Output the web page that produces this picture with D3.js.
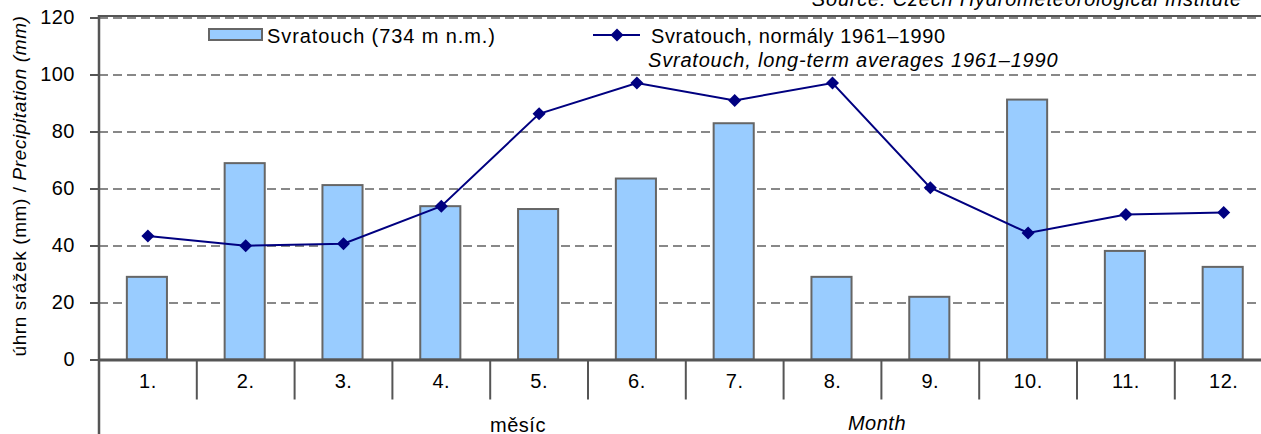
<!DOCTYPE html>
<html>
<head>
<meta charset="utf-8">
<script src="https://cdn.jsdelivr.net/npm/d3@7"></script>
<style>
  body { margin: 0; background: #fff; }
  svg { display: block; font-family: 'Liberation Sans', Arial, sans-serif; }
  text { fill: #000; }
</style>
</head>
<body>
<div id="vis"></div>
<script>
var months = ['1.', '2.', '3.', '4.', '5.', '6.', '7.', '8.', '9.', '10.', '11.', '12.'];
var precip = [29.0, 68.9, 61.2, 53.8, 52.8, 63.5, 82.9, 29.0, 22.0, 91.2, 38.1, 32.5]; // Svratouch
var normals = [43.3, 39.9, 40.6, 53.8, 86.2, 97.0, 90.9, 97.0, 60.3, 44.4, 50.9, 51.6]; // 1961-1990
var yTicks = [0, 20, 40, 60, 80, 100, 120];

var width = 1261, height = 434;
var plotLeft = 99, plotRight = 1272.6; // plot continues past the right edge
var plotTop = 17.5, plotBottom = 359.5;

var svg = d3.select('#vis').append('svg')
    .attr('width', width)
    .attr('height', height);

var x = d3.scaleBand().domain(months).range([plotLeft, plotRight]).padding(0);
var y = d3.scaleLinear().domain([0, 120]).range([plotBottom, plotTop]);
var barW = x.bandwidth() * 0.41;

// gridlines
svg.append('g')
  .selectAll('line')
  .data(yTicks.filter(function(d) { return d > 0; }))
  .enter()
  .append('line')
  .attr('x1', plotLeft).attr('x2', width)
  .attr('y1', function(d) { return y(d) + 0.5; })
  .attr('y2', function(d) { return y(d) + 0.5; })
  .attr('stroke', '#888')
  .attr('stroke-width', 2)
  .attr('stroke-dasharray', '9,5');

// top border of plot area
svg.append('line')
  .attr('x1', plotLeft).attr('x2', width)
  .attr('y1', plotTop - 1.5).attr('y2', plotTop - 1.5)
  .attr('stroke', '#555').attr('stroke-width', 2);

// bars
svg.append('g')
  .selectAll('rect')
  .data(precip)
  .enter()
  .append('rect')
  .attr('x', function(d, i) { return x(months[i]) + x.bandwidth() / 2 - barW / 2 - 1; })
  .attr('y', function(d) { return y(d); })
  .attr('width', barW)
  .attr('height', function(d) { return y(0) - y(d); })
  .attr('fill', '#99ccff')
  .attr('stroke', '#666')
  .attr('stroke-width', 2);

// y axis
var yAxis = d3.axisLeft(y).tickValues(yTicks).tickSize(9).tickPadding(15);
var gy = svg.append('g')
  .attr('transform', 'translate(' + plotLeft + ',0)')
  .call(yAxis);
gy.select('.domain').remove();
gy.selectAll('.tick line').attr('stroke', '#555').attr('stroke-width', 2);
gy.selectAll('.tick text')
  .attr('font-size', 20)
  .attr('letter-spacing', 0.5)
  .attr('font-family', "'Liberation Sans', Arial, sans-serif")
  .attr('fill', '#000');

svg.append('line')
  .attr('x1', plotLeft).attr('x2', plotLeft)
  .attr('y1', plotTop - 2.5).attr('y2', height)
  .attr('stroke', '#555').attr('stroke-width', 2.5);

// x axis (category level)
var xAxis = d3.axisBottom(x).tickSize(0).tickPadding(14);
var gx = svg.append('g')
  .attr('transform', 'translate(0,' + plotBottom + ')')
  .call(xAxis);
gx.select('.domain').remove();
gx.selectAll('.tick text')
  .attr('font-size', 20)
  .attr('letter-spacing', 0.5)
  .attr('font-family', "'Liberation Sans', Arial, sans-serif")
  .attr('fill', '#000');

// separators between categories
svg.append('g')
  .selectAll('line')
  .data(months.slice(1))
  .enter()
  .append('line')
  .attr('x1', function(d) { return x(d); })
  .attr('x2', function(d) { return x(d); })
  .attr('y1', plotBottom).attr('y2', plotBottom + 40)
  .attr('stroke', '#555').attr('stroke-width', 2);

svg.append('line')
  .attr('x1', plotLeft).attr('x2', width)
  .attr('y1', plotBottom + 0.5).attr('y2', plotBottom + 0.5)
  .attr('stroke', '#555').attr('stroke-width', 3);

// line series
var line = d3.line()
  .x(function(d, i) { return x(months[i]) + x.bandwidth() / 2; })
  .y(function(d) { return y(d); });

svg.append('path')
  .datum(normals)
  .attr('d', line)
  .attr('fill', 'none')
  .attr('stroke', '#000080')
  .attr('stroke-width', 2);

var diamond = d3.symbol().type(d3.symbolSquare).size(85);
svg.append('g')
  .selectAll('path')
  .data(normals)
  .enter()
  .append('path')
  .attr('d', diamond)
  .attr('transform', function(d, i) {
    return 'translate(' + (x(months[i]) + x.bandwidth() / 2) + ',' + y(d) + ')rotate(45)';
  })
  .attr('fill', '#000080');

// axis titles
svg.append('text')
  .attr('transform', 'translate(26,186)rotate(-90)')
  .attr('text-anchor', 'middle')
  .attr('font-size', 19)
  .attr('letter-spacing', 0.6)
  .call(function(t) {
    t.append('tspan').text('úhrn srážek (mm) / ');
    t.append('tspan').attr('font-style', 'italic').text('Precipitation (mm)');
  });

svg.append('text')
  .attr('x', 518).attr('y', 432)
  .attr('text-anchor', 'middle')
  .attr('font-size', 20)
  .attr('letter-spacing', 0.5)
  .text('měsíc');

svg.append('text')
  .attr('x', 877).attr('y', 430)
  .attr('text-anchor', 'middle')
  .attr('font-size', 20)
  .attr('font-style', 'italic')
  .attr('letter-spacing', 0.5)
  .text('Month');

// source (cut off at the top edge, as in the original)
svg.append('text')
  .attr('x', 1242).attr('y', 6)
  .attr('text-anchor', 'end')
  .attr('font-size', 20)
  .attr('font-style', 'italic')
  .attr('letter-spacing', 0.8)
  .text('Source: Czech Hydrometeorological Institute');

// legend
var legend = svg.append('g');
legend.append('rect')
  .attr('x', 209).attr('y', 29).attr('width', 53).attr('height', 11)
  .attr('fill', '#99ccff').attr('stroke', '#666').attr('stroke-width', 2);
legend.append('text')
  .attr('x', 267).attr('y', 43)
  .attr('font-size', 20).attr('letter-spacing', 0.9)
  .text('Svratouch (734 m n.m.)');

legend.append('line')
  .attr('x1', 593).attr('x2', 640).attr('y1', 35).attr('y2', 35)
  .attr('stroke', '#000080').attr('stroke-width', 2);
legend.append('path')
  .attr('d', diamond)
  .attr('transform', 'translate(617,35)rotate(45)')
  .attr('fill', '#000080');
legend.append('text')
  .attr('x', 651).attr('y', 43)
  .attr('font-size', 20).attr('letter-spacing', 0.6)
  .text('Svratouch, normály 1961–1990');
legend.append('text')
  .attr('x', 648).attr('y', 67)
  .attr('font-size', 20).attr('letter-spacing', 0.8)
  .attr('font-style', 'italic')
  .text('Svratouch, long-term averages 1961–1990');
</script>
</body>
</html>
